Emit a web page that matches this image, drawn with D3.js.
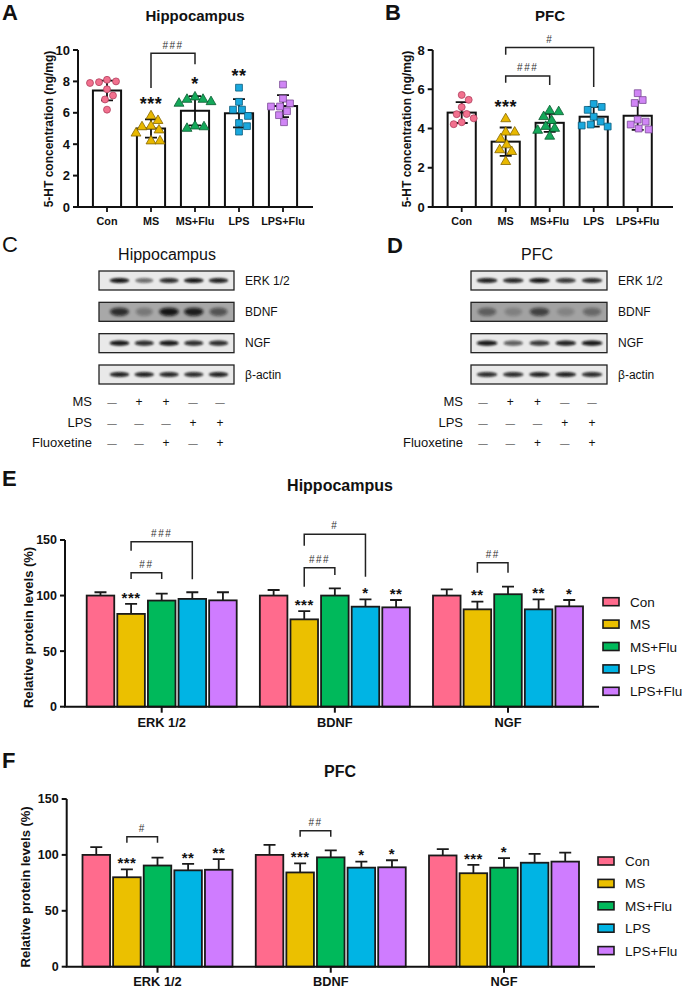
<!DOCTYPE html>
<html><head><meta charset="utf-8">
<script src="https://cdn.jsdelivr.net/npm/d3@7"></script>
<style>
body{margin:0;background:#fff}
svg{display:block}
text{font-family:Arial,"Liberation Sans",Helvetica,sans-serif;fill:#111}
</style>
</head><body>
<svg id="c" width="685" height="988"></svg>
<script>
// ---------------- DATA ----------------
const groups = ["Con","MS","MS+Flu","LPS","LPS+Flu"];
const barColors = ["#FF6B8D","#EBC000","#00B95B","#00B4E4","#CF7CFF"];

// Panel A: 5-HT Hippocampus (ng/mg)
const hippPoints = [
  [7.9,8.0,8.1,7.95,7.5,7.1,6.85,6.2],
  [5.8,5.1,5.15,5.5,4.7,4.9,4.2,4.2],
  [6.85,7.0,6.85,6.6,6.7,5.0,5.1,5.15],
  [7.6,6.7,6.2,6.2,5.8,5.35,4.8,5.15],
  [7.8,6.9,6.4,6.4,6.6,6.1,5.85,5.4]
];
const hippMean = [7.42,5.0,6.13,5.97,6.43];
const hippSD = [0.63,0.58,0.93,0.9,0.7];
const hippStars = ["","***","*","**",""];
const hippTicks = [0,2,4,6,8,10];
// brackets: [fromGroup, toGroup, label, topValue, leftLegEnd, rightLegEnd]
const hippBrackets = [["MS","MS+Flu","###",9.8,7.58,9.1]];

// Panel B: 5-HT PFC (ng/mg)
const pfcPoints = [
  [5.46,5.71,4.74,4.73,5.09,4.22,4.52,4.32],
  [4.49,3.81,3.81,3.47,3.16,2.82,2.91,2.31],
  [4.9,4.85,4.6,4.4,4.1,4.0,3.9,3.6],
  [5.25,5.1,4.95,4.6,4.35,4.2,4.15,4.1],
  [5.8,5.45,5.3,4.45,4.35,4.2,4.0,3.95]
];
const pfcMean = [4.81,3.33,4.29,4.6,4.65];
const pfcSD = [0.53,0.72,0.46,0.5,0.72];
const pfcStars = ["","***","","",""];
const pfcTicks = [0,2,4,6,8];
const pfcBrackets = [["MS","LPS","#",8.13,7.76,6.12],["MS","MS+Flu","###",6.68,6.33,6.22]];

// Panels C / D: western blots
const blotProteins = ["ERK 1/2","BDNF","NGF","β-actin"];
const hippBands = [
  [0.95,0.55,0.85,0.95,0.9],
  [0.8,0.3,0.95,0.9,0.55],
  [0.95,0.85,0.95,0.85,0.85],
  [0.9,0.9,0.88,0.85,0.9]
];
const pfcBands = [
  [0.9,0.88,0.95,0.8,0.85],
  [0.45,0.22,0.65,0.2,0.38],
  [0.95,0.62,0.8,0.9,0.95],
  [0.85,0.85,0.9,0.9,0.85]
];
const treatments = ["MS","LPS","Fluoxetine"];
const treatmentSigns = [
  ["—","+","+","—","—"],
  ["—","—","—","+","+"],
  ["—","—","+","—","+"]
];

// Panels E / F: relative protein levels (%)
const proteins = ["ERK 1/2","BDNF","NGF"];
const hippProtMean = [[100,83.5,95.5,97,95.7],[100,78.6,100,90,89.4],[100,87.6,101.2,87.6,90.3]];
const hippProtErr  = [[3,9,6.3,6,7.3],[5,7.4,6.5,6.6,6.6],[5.6,6.9,6.8,9,5.7]];
const hippProtStars = [["","***","","",""],["","***","","*","**"],["","**","","**","*"]];
const hippProtBrackets = [
  [0,"MS","MS+Flu","##",120.6,115,115],
  [0,"MS","LPS","###",148.5,140.4,114.7],
  [1,"MS","MS+Flu","###",125.1,108,118.5],
  [1,"MS","LPS","#",155.2,144.9,117],
  [2,"MS","MS+Flu","##",129.6,120.6,120.6]
];
const pfcProtMean = [[100,80,90.5,86.2,86.7],[100,84.3,97.8,88.6,88.9],[99.5,83.6,88.6,93,94]];
const pfcProtErr  = [[7,7,7,5.7,9.6],[8.9,8.2,6.3,5.4,6.3],[5.7,7.4,8.5,8,8]];
const pfcProtStars = [["","***","","**","**"],["","***","","*","*"],["","***","*","",""]];
const pfcProtBrackets = [
  [0,"MS","MS+Flu","#",116.3,110.9,110.9],
  [1,"MS","MS+Flu","##",121.6,116.3,116.3]
];
const protTicks = [0,50,100,150];

// ---------------- DRAWING ----------------
const svg = d3.select("#c");
svg.append("rect").attr("width",685).attr("height",988).attr("fill","#fff");
const defs = svg.append("defs");
defs.append("filter").attr("id","blur1").attr("x","-50%").attr("y","-200%").attr("width","200%").attr("height","500%")
  .append("feGaussianBlur").attr("stdDeviation",1.1);
defs.append("filter").attr("id","blur2").attr("x","-50%").attr("y","-200%").attr("width","200%").attr("height","500%")
  .append("feGaussianBlur").attr("stdDeviation",1.8);

function txt(g,x,y,s,o={}){
  const t=g.append("text").attr("x",x).attr("y",y).text(s)
    .attr("font-size",o.size||12).attr("font-weight",o.weight||"normal")
    .attr("text-anchor",o.anchor||"start");
  if(o.ls) t.attr("letter-spacing",o.ls);
  if(o.rotate) t.attr("transform",`rotate(${o.rotate},${x},${y})`);
  return t;
}

// panel letters
[["A",2,20,"bold"],["B",385,20,"bold"],["C",2,252,"normal"],["D",387,253,"bold"],["E",2,486,"bold"],["F",2,768,"bold"]]
  .forEach(([l,x,y,w])=>txt(svg,x,y,l,{size:22,weight:w}));

const markerShapes = [d3.symbolCircle,d3.symbolTriangle,d3.symbolTriangle,d3.symbolSquare,d3.symbolSquare];
const markerSizes = [38,42,42,46,46];
const markerFill = ["#F2708E","#E8B800","#14A85A","#1AA8DD","#D085F5"];
const markerStroke = ["#B0405E","#846600","#0A5A30","#0A5A7A","#7A4A95"];

function scatterPanel(p){
  const g = svg.append("g");
  const y = d3.scaleLinear().domain([0,p.ymax]).range([207,50]);
  const x = d3.scalePoint().domain(groups).range(p.centers);
  const bw = x.step()*0.64;
  txt(g,p.titleX,21,p.title,{size:15,weight:"bold",anchor:"middle"});
  txt(g,p.ylabelX,129,"5-HT concentration (ng/mg)",{size:12,weight:"bold",anchor:"middle",rotate:-90})
    .attr("dy","0.35em");
  g.selectAll("rect.bar").data(groups).join("rect").attr("class","bar")
    .attr("x",d=>x(d)-bw/2).attr("y",(d,i)=>y(p.mean[i]))
    .attr("width",bw).attr("height",(d,i)=>y(0)-y(p.mean[i]))
    .attr("fill","#fff").attr("stroke","#111").attr("stroke-width",2);
  groups.forEach((gr,i)=>{
    const cx=x(gr), t=y(p.mean[i]+p.sd[i]), b=y(p.mean[i]-p.sd[i]);
    g.append("path").attr("d",`M${cx},${t}V${b}M${cx-6},${t}H${cx+6}M${cx-6},${b}H${cx+6}`)
      .attr("stroke","#111").attr("stroke-width",1.8).attr("fill","none");
  });
  const minD=8.2;
  groups.forEach((gr,i)=>{
    const cx=x(gr);
    const pts=p.points[i].map(v=>({v,py:y(v)})).sort((a,b)=>a.py-b.py);
    const placed=[];
    pts.forEach(pt=>{
      let off=0;
      for(let k=0;k<60;k++){
        const cand = k===0?0:(k%2? Math.ceil(k/2): -Math.ceil(k/2));
        if(placed.every(q=>Math.hypot(q.px-(cx+cand),q.py-pt.py)>=minD)){off=cand;break;}
      }
      pt.px=cx+off; placed.push(pt);
    });
    g.selectAll(null).data(placed).join("path")
      .attr("transform",d=>`translate(${d.px},${d.py})`)
      .attr("d",d3.symbol().type(markerShapes[i]).size(markerSizes[i]))
      .attr("fill",markerFill[i]).attr("stroke",markerStroke[i]).attr("stroke-width",0.8);
    if(p.stars[i]){
      const top=Math.min(y(d3.max(p.points[i])),y(p.mean[i]+p.sd[i]));
      const cy=top-16;
      txt(g,cx,cy+10.3,p.stars[i],{size:18,weight:"bold",anchor:"middle",ls:0.5});
    }
  });
  const y0=y(0);
  g.append("path").attr("d",`M${p.axisX},${y(p.ymax)}V${y0}H${p.axisEnd}`)
    .attr("stroke","#111").attr("stroke-width",2).attr("fill","none");
  p.ticks.forEach(t=>{
    g.append("line").attr("x1",p.axisX-5).attr("x2",p.axisX).attr("y1",y(t)).attr("y2",y(t)).attr("stroke","#111").attr("stroke-width",2);
    txt(g,p.axisX-8,y(t)+4.6,t,{size:13,weight:"bold",anchor:"end"});
  });
  groups.forEach(gr=>{
    g.append("line").attr("x1",x(gr)).attr("x2",x(gr)).attr("y1",y0).attr("y2",y0+5).attr("stroke","#111").attr("stroke-width",1.8);
    txt(g,x(gr),225,gr,{size:10.8,weight:"bold",anchor:"middle"});
  });
  p.brackets.forEach(([a,b,lab,top,la,lb])=>{
    const xa=x(a), xb=x(b);
    g.append("path").attr("d",`M${xa},${y(la)}V${y(top)}H${xb}V${y(lb)}`)
      .attr("stroke","#222").attr("stroke-width",1.5).attr("fill","none");
    txt(g,(xa+xb)/2,y(top)-4.5,lab,{size:10,anchor:"middle",ls:1.5}).style("fill","#333");
  });
}

scatterPanel({ymax:10,ticks:hippTicks,centers:[107,283],axisX:78,axisEnd:313,points:hippPoints,mean:hippMean,sd:hippSD,
  stars:hippStars,brackets:hippBrackets,title:"Hippocampus",titleX:195,ylabelX:49});
scatterPanel({ymax:8,ticks:pfcTicks,centers:[461.7,637.7],axisX:432.7,axisEnd:673,points:pfcPoints,mean:pfcMean,sd:pfcSD,
  stars:pfcStars,brackets:pfcBrackets,title:"PFC",titleX:550,ylabelX:407});

// ---------- blots ----------
function blotPanel(p){
  const g=svg.append("g");
  txt(g,p.titleX,260,p.title,{size:16,anchor:"middle"});
  const rowY=d3.scalePoint().domain(blotProteins).range([271,365]);
  const lane=d3.scalePoint().domain(groups).range(p.lanes);
  const bandW=lane.step()*0.8;
  const h=19;
  blotProteins.forEach((prot,r)=>{
    const top=rowY(prot), cy=top+h/2;
    const dark = prot==="BDNF";
    g.append("rect").attr("x",p.box[0]).attr("y",top).attr("width",p.box[1]-p.box[0]).attr("height",h)
      .attr("fill",dark?p.darkBg:"#e9e9e9");
    const cp="clip"+p.id+r;
    defs.append("clipPath").attr("id",cp).append("rect").attr("x",p.box[0]).attr("y",top).attr("width",p.box[1]-p.box[0]).attr("height",h);
    const bands=g.append("g").attr("clip-path",`url(#${cp})`);
    bands.selectAll(null).data(p.bands[r]).join("ellipse")
      .attr("cx",(d,i)=>lane(groups[i])).attr("cy",cy)
      .attr("rx",d=>bandW/2*(0.8+0.2*d)).attr("ry",dark?4.2:2.6)
      .attr("fill","#080808").attr("opacity",d=>d)
      .attr("filter",dark?"url(#blur2)":"url(#blur1)");
    g.append("rect").attr("x",p.box[0]).attr("y",top).attr("width",p.box[1]-p.box[0]).attr("height",h)
      .attr("fill","none").attr("stroke","#222").attr("stroke-width",1.3);
    txt(g,p.box[1]+11,cy+4.3,prot,{size:12});
  });
  const sx=d3.scalePoint().domain(groups).range(p.signs);
  treatments.forEach((t,r)=>{
    const yb=406+r*20.5;
    txt(g,p.labelX,yb,t,{size:13,anchor:"end"});
    treatmentSigns[r].forEach((s,i)=>{
      txt(g,sx(groups[i]),yb,s,{size:s==="+"?12:9.5,anchor:"middle"});
    });
  });
}
blotPanel({id:"c",title:"Hippocampus",titleX:167,box:[99,234],lanes:[119.5,218.5],bands:hippBands,darkBg:"#a8a8a8",signs:[112,220],labelX:92});
blotPanel({id:"d",title:"PFC",titleX:537,box:[471,607],lanes:[487,592],bands:pfcBands,darkBg:"#a2a2a2",signs:[483,592],labelX:463});

// ---------- grouped bar panels ----------
function groupPanel(p){
  const g=svg.append("g");
  const y=d3.scaleLinear().domain([0,150]).range([p.y0,p.y150]);
  const x0=d3.scalePoint().domain(proteins).range(p.centers);
  const x1=d3.scaleBand().domain(groups).range([-75,75]).paddingInner(0.1);
  const bw=x1.bandwidth();
  txt(g,340,p.titleY,p.title,{size:16,weight:"bold",anchor:"middle"});
  txt(g,p.ylabelX,(p.y0+p.y150)/2+4,"Relative protein levels (%)",{size:13,weight:"bold",anchor:"middle",rotate:-90}).attr("dy","0.35em");
  proteins.forEach((pr,c)=>{
    groups.forEach((gr,i)=>{
      const cx=x0(pr)+x1(gr)+bw/2;
      const m=p.mean[c][i], e=p.err[c][i];
      g.append("path").attr("d",`M${cx},${y(m)}V${y(m+e)}M${cx-6},${y(m+e)}H${cx+6}`)
        .attr("stroke","#1a1a1a").attr("stroke-width",1.8).attr("fill","none");
      g.append("rect").attr("x",cx-bw/2).attr("y",y(m)).attr("width",bw).attr("height",y(0)-y(m))
        .attr("fill",barColors[i]).attr("stroke","#1a1a1a").attr("stroke-width",1.8);
      const s=p.stars[c][i];
      if(s){ txt(g,cx,y(m+e)-10+8.6,s,{size:15,weight:"bold",anchor:"middle",ls:0.5}); }
    });
  });
  g.append("path").attr("d",`M${p.axisX},${y(150)}V${y(0)}H${p.axisEnd}`).attr("stroke","#111").attr("stroke-width",2).attr("fill","none");
  protTicks.forEach(t=>{
    g.append("line").attr("x1",p.axisX-5).attr("x2",p.axisX).attr("y1",y(t)).attr("y2",y(t)).attr("stroke","#111").attr("stroke-width",2);
    txt(g,p.axisX-8,y(t)+4.4,t,{size:12.5,weight:"bold",anchor:"end"});
  });
  proteins.forEach(pr=>{
    g.append("line").attr("x1",x0(pr)).attr("x2",x0(pr)).attr("y1",y(0)).attr("y2",y(0)+6).attr("stroke","#111").attr("stroke-width",2);
    txt(g,x0(pr),p.xlabY,pr,{size:12.8,weight:"bold",anchor:"middle"});
  });
  p.brackets.forEach(([c,a,b,lab,top,la,lb])=>{
    const xa=x0(proteins[c])+x1(a)+bw/2, xb=x0(proteins[c])+x1(b)+bw/2;
    g.append("path").attr("d",`M${xa},${y(la)}V${y(top)}H${xb}V${y(lb)}`).attr("stroke","#222").attr("stroke-width",1.5).attr("fill","none");
    txt(g,(xa+xb)/2,y(top)-5,lab,{size:10,anchor:"middle",ls:1.5}).style("fill","#333");
  });
  groups.forEach((gr,i)=>{
    const cy=p.legY+i*22.4;
    g.append("rect").attr("x",p.legX).attr("y",cy-4).attr("width",16).attr("height",8)
      .attr("fill",barColors[i]).attr("stroke","#1a1a1a").attr("stroke-width",1.6);
    txt(g,p.legX+27,cy+5,gr,{size:13.5});
  });
}
groupPanel({title:"Hippocampus",titleY:491,y0:706.7,y150:540,centers:[161.7,508],axisX:65,axisEnd:599,
  mean:hippProtMean,err:hippProtErr,stars:hippProtStars,brackets:hippProtBrackets,legX:603,legY:601.7,ylabelX:28,xlabY:727});
groupPanel({title:"PFC",titleY:777,y0:966.7,y150:799,centers:[157.5,504],axisX:66.7,axisEnd:595,
  mean:pfcProtMean,err:pfcProtErr,stars:pfcProtStars,brackets:pfcProtBrackets,legX:598,legY:861,ylabelX:25,xlabY:986});
</script>
</body></html>
